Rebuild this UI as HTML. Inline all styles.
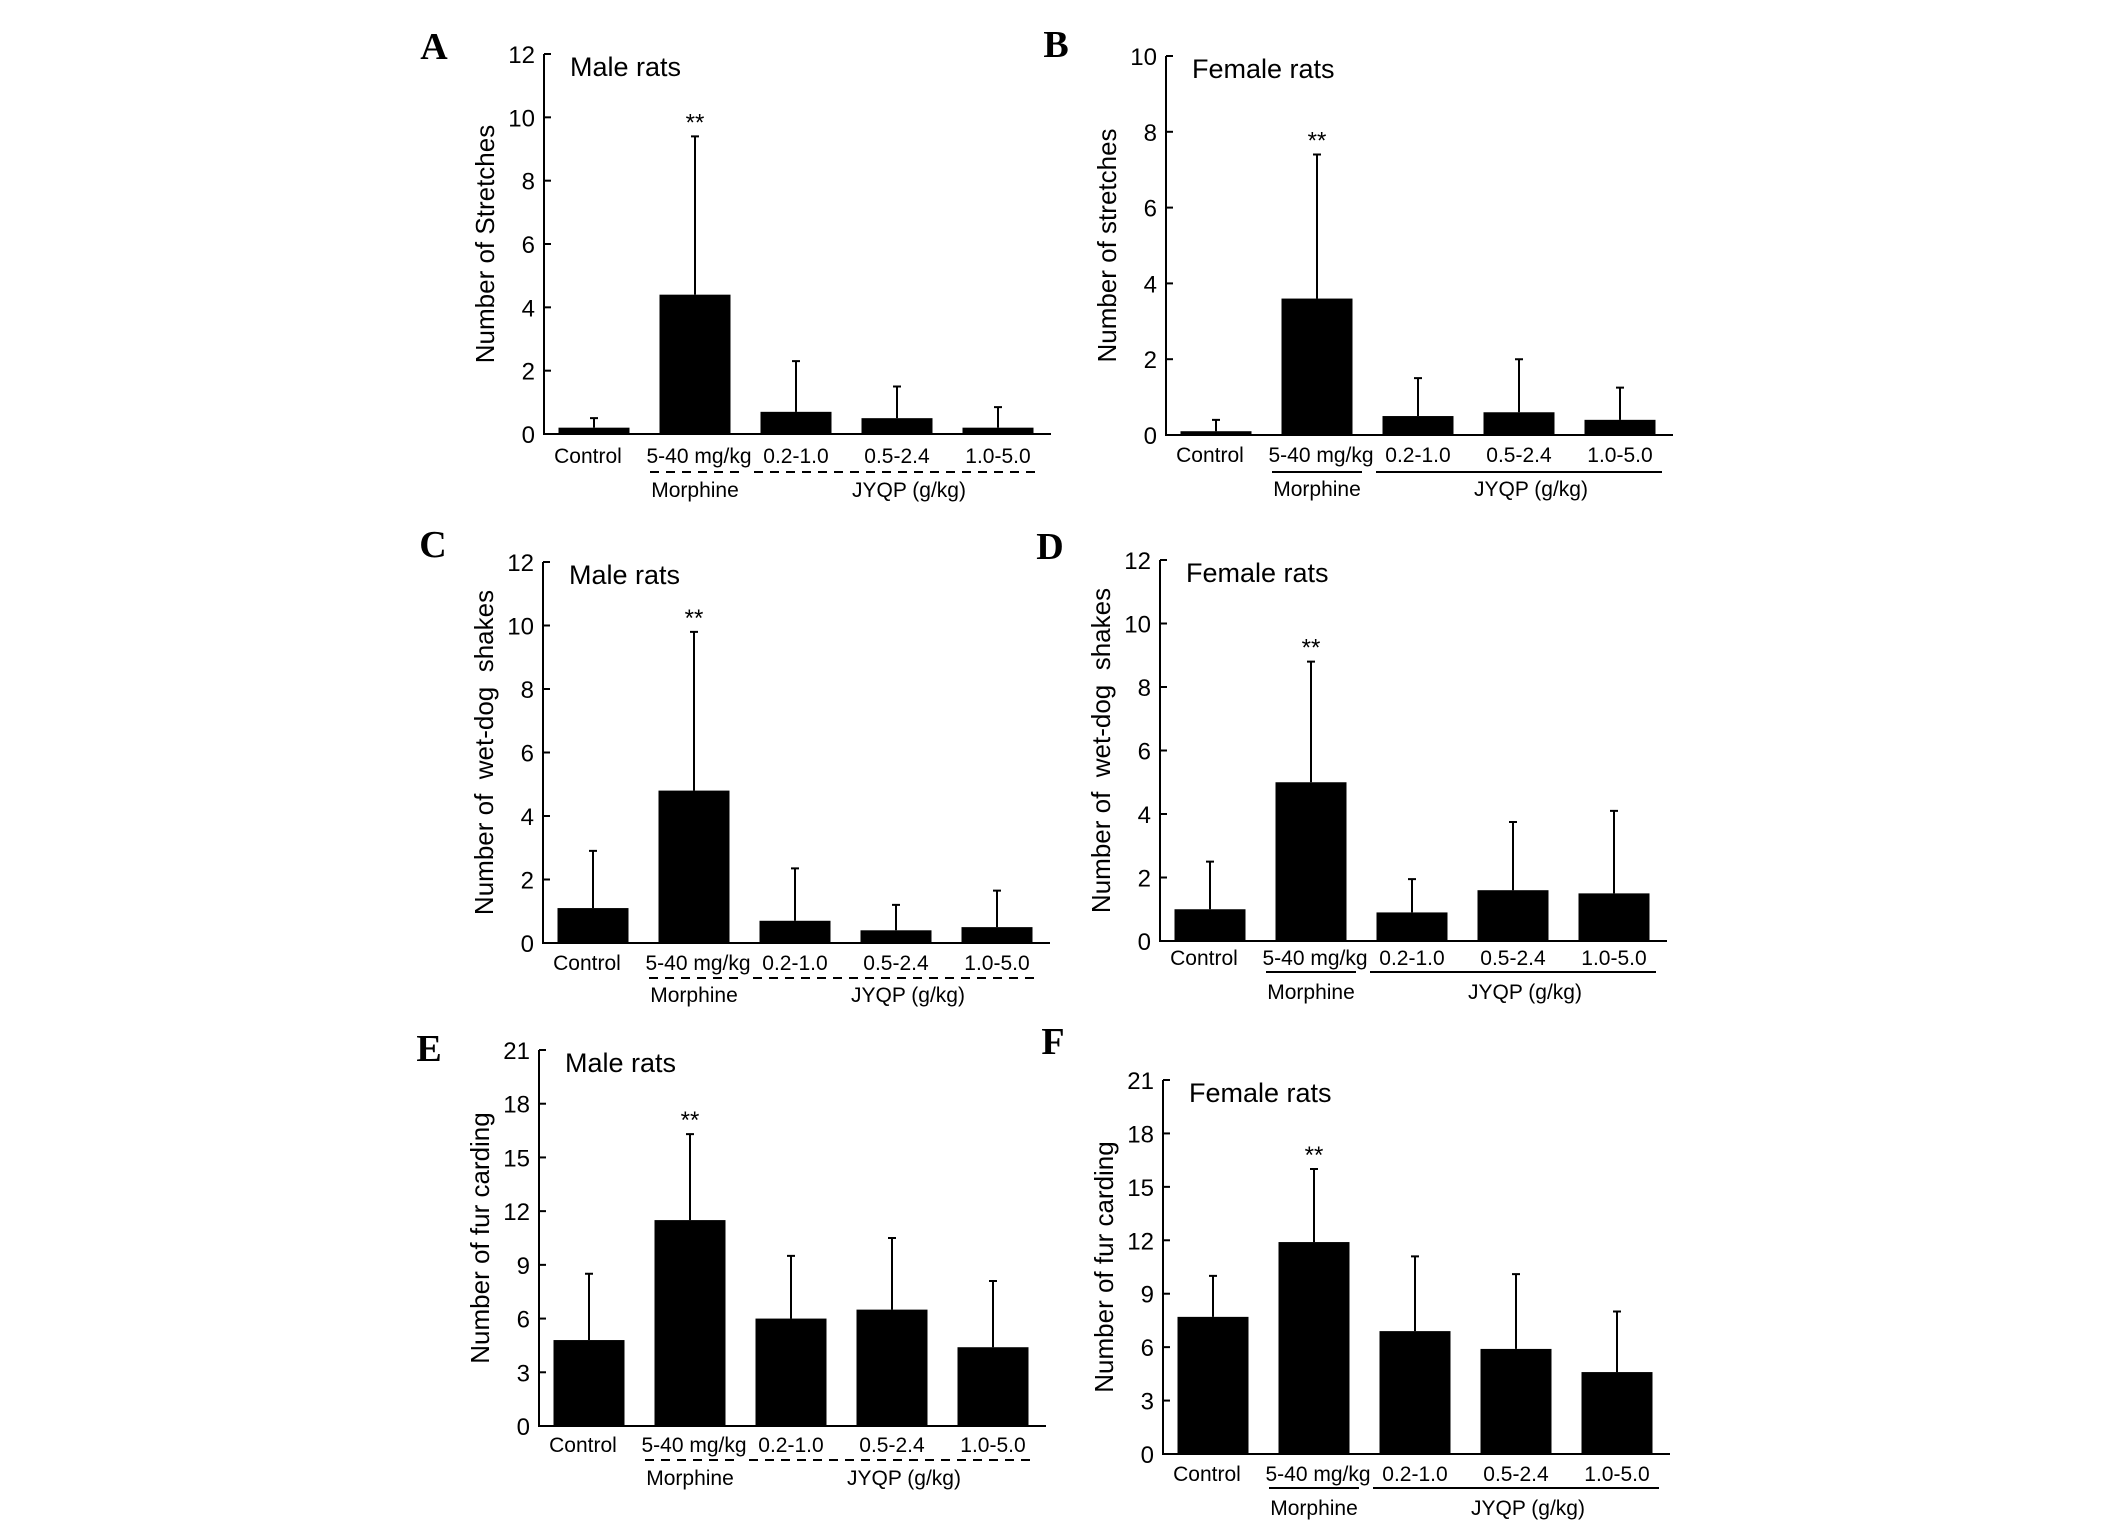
<!DOCTYPE html>
<html><head><meta charset="utf-8"><style>
html,body{margin:0;padding:0;background:#fff;}
svg{display:block;font-family:"Liberation Sans",Arial,sans-serif;}
</style></head><body>
<svg id="fig" width="2126" height="1534" viewBox="0 0 2126 1534" xmlns="http://www.w3.org/2000/svg"></svg>
<script>
const categories = ["Control","5-40 mg/kg","0.2-1.0","0.5-2.4","1.0-5.0"];
const valuesA = [0.2,4.4,0.7,0.5,0.2];
const errorsA = [0.5,9.4,2.3,1.5,0.85];
const valuesB = [0.1,3.6,0.5,0.6,0.4];
const errorsB = [0.4,7.4,1.5,2.0,1.25];
const valuesC = [1.1,4.8,0.7,0.4,0.5];
const errorsC = [2.9,9.8,2.35,1.2,1.65];
const valuesD = [1.0,5.0,0.9,1.6,1.5];
const errorsD = [2.5,8.8,1.95,3.75,4.1];
const valuesE = [4.8,11.5,6.0,6.5,4.4];
const errorsE = [8.5,16.3,9.5,10.5,8.1];
const valuesF = [7.7,11.9,6.9,5.9,4.6];
const errorsF = [10.0,16.0,11.1,10.1,8.0];
const ticks12 = [0,2,4,6,8,10,12];
const ticks10 = [0,2,4,6,8,10];
const ticks21 = [0,3,6,9,12,15,18,21];

const panels = [
 {id:'a',letter:'A',title:'Male rats',ytitle:'Number of Stretches',vals:valuesA,errs:errorsA,ticks:ticks12,ax:544,top:54,base:434,lab:455,line:472,grp:489,dashed:true,ly:47},
 {id:'b',letter:'B',title:'Female rats',ytitle:'Number of stretches',vals:valuesB,errs:errorsB,ticks:ticks10,ax:1166,top:56,base:435,lab:454,line:472,grp:488,dashed:false,ly:45},
 {id:'c',letter:'C',title:'Male rats',ytitle:'Number of  wet-dog  shakes',vals:valuesC,errs:errorsC,ticks:ticks12,ax:543,top:562,base:943,lab:962,line:978,grp:994,dashed:true,ly:545},
 {id:'d',letter:'D',title:'Female rats',ytitle:'Number of  wet-dog  shakes',vals:valuesD,errs:errorsD,ticks:ticks12,ax:1160,top:560,base:941,lab:957,line:972,grp:991,dashed:false,ly:547},
 {id:'e',letter:'E',title:'Male rats',ytitle:'Number of fur carding',vals:valuesE,errs:errorsE,ticks:ticks21,ax:539,top:1050,base:1426,lab:1444,line:1460,grp:1477,dashed:true,ly:1049},
 {id:'f',letter:'F',title:'Female rats',ytitle:'Number of fur carding',vals:valuesF,errs:errorsF,ticks:ticks21,ax:1163,top:1080,base:1454,lab:1473,line:1488,grp:1507,dashed:false,ly:1042}
];
const NS='http://www.w3.org/2000/svg';
const svg=document.getElementById('fig');
function mk(tag,attrs,parent,text){const e=document.createElementNS(NS,tag);for(const k in attrs)e.setAttribute(k,attrs[k]);if(text!==undefined)e.textContent=text;parent.appendChild(e);return e;}
panels.forEach(p=>{
 const g=mk('g',{},svg);
 
 
 const tmax=p.ticks[p.ticks.length-1];
 const y=v=>p.base-(v/tmax)*(p.base-p.top);
 const step=101, off=50, bw=71;
 const xc=i=>p.ax+off+i*step;
 const axEnd=p.ax+507;
 const lt=mk('text',{x:p.ax-110,y:p.ly+12,'font-family':'Liberation Serif,serif','font-weight':'bold','font-size':38,'text-anchor':'middle'},g,p.letter);
 
 
 const tt=mk('text',{x:p.ax+26,y:p.top+22,'font-size':27},g,p.title);
 
 
 const yt=mk('text',{x:0,y:0,'font-size':26,'text-anchor':'middle',style:'white-space:pre',transform:`translate(${p.ax-50},${(p.top+p.base)/2}) rotate(-90)`},g,p.ytitle);
 
 
 p.vals.forEach((v,i)=>{
  const r=mk('rect',{x:xc(i)-bw/2,y:y(v),width:bw,height:p.base-y(v),fill:'#000'},g);
  
  
  const e=mk('path',{d:`M${xc(i)} ${y(v)}V${y(p.errs[i])}M${xc(i)-4} ${y(p.errs[i])}H${xc(i)+4}`,stroke:'#000','stroke-width':2,fill:'none'},g);
  
  
 });
 const st=mk('text',{x:xc(1),y:y(p.errs[1])-6,'font-size':24,'text-anchor':'middle'},g,'**');
 
 
 const ax=mk('path',{d:`M${p.ax} ${p.top}V${p.base}H${axEnd}`,stroke:'#000','stroke-width':2,fill:'none'},g);
 
 
 p.ticks.forEach(t=>{
  const tk=mk('line',{x1:p.ax,x2:p.ax+7,y1:y(t),y2:y(t),stroke:'#000','stroke-width':2},g);
  
  
  const tl=mk('text',{x:p.ax-9,y:y(t)+9,'font-size':24,'text-anchor':'end'},g,String(t));
  
  
 });
 categories.forEach((c,i)=>{
  const cl=mk('text',{x:xc(i)+(i==0?-6:i==1?4:0),y:p.lab+8,'font-size':21,'text-anchor':'middle'},g,c);
  
  
 });
 const dash=p.dashed?{'stroke-dasharray':'9 7'}:{};
 const l1=mk('line',Object.assign({x1:xc(1)-45,x2:xc(1)+45,y1:p.line,y2:p.line,stroke:'#000','stroke-width':2},dash),g);
 
 
 const l2=mk('line',Object.assign({x1:xc(2)-42,x2:xc(4)+42,y1:p.line,y2:p.line,stroke:'#000','stroke-width':2},dash),g);
 
 
 const g1=mk('text',{x:xc(1),y:p.grp+8,'font-size':21,'text-anchor':'middle'},g,'Morphine');
 
 
 const g2=mk('text',{x:xc(3)+12,y:p.grp+8,'font-size':21,'text-anchor':'middle'},g,'JYQP (g/kg)');
 
 
});
</script>
</body></html>
